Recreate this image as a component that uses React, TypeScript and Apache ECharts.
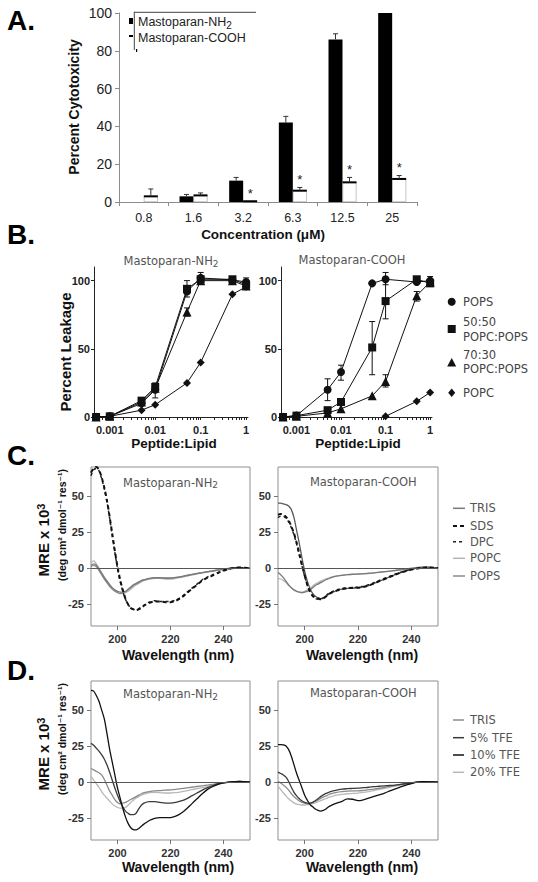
import React, { useEffect, useRef } from 'react';
import * as echarts from 'echarts';

// ---------- Panel A: cytotoxicity ----------
const CONC = ['0.8', '1.6', '3.2', '6.3', '12.5', '25'];
const NH2_CYTO = [0, 3, 11.3, 42, 86, 100];
const NH2_CYTO_ERR = [0, 4, 13, 45.3, 89, 100];
const COOH_CYTO = [3, 3.5, 0.4, 6, 10.4, 12.2];
const COOH_CYTO_ERR = [6.9, 4.8, 0.4, 7.7, 13, 14];
const COOH_SIG = [0, 0, 1, 1, 1, 1];

// ---------- Panel B: leakage ----------
const PL = [0.0005, 0.001, 0.005, 0.01, 0.05, 0.1, 0.5, 1];
const NH2_POPS = [0, 0.5, 10, 20, 92, 102, 100.5, 99];
const NH2_5050 = [0, 0.5, 12, 22, 94, 101, 101, 97];
const NH2_7030 = [0, 0.5, 11, 21, 77, 100, 100, 96];
const NH2_POPC = [0, 0.5, 5, 9, 25, 40, 90, 95.5];
const COOH_POPS = [0, 1, 20, 33, 98, 101, 99, 100];
const COOH_5050 = [0, 1, 5, 11, 51, 85, 101, 98];
const COOH_7030 = [0, 0.5, 3, 6, 15.5, 26, 89, 99];
const COOH_POPC = [null, null, null, null, null, 0.5, 11.5, 18];
const NH2_ERRBARS = [[0.01, 14, 25], [0.05, 74, 80], [0.05, 88, 100], [0.1, 99, 106], [1, 94, 102]];
const COOH_ERRBARS = [[0.005, 12, 28], [0.01, 27, 38], [0.05, 31, 70], [0.1, 72, 100], [0.1, 97, 106], [0.1, 22, 31], [0.5, 85, 92], [1, 96, 103]];
const B_LABEL_VALUES = [0.001, 0.01, 0.1, 1];
const B_LABELS = ['0.001', '0.01', '0.1', '1'];
const B_Y_TICKS = [0, 50, 100];

// ---------- Panels C & D: CD spectra ----------
const WL = [190, 191, 192, 193, 194, 195, 196, 197, 198, 199, 200, 201, 202, 203, 204, 205, 206, 207, 208, 209, 210,
  212, 214, 216, 218, 220, 222, 224, 226, 228, 230, 232, 234, 236, 238, 240, 242, 244, 246, 248, 250];
const C_NH2_SDS = [66, 69, 70, 68, 63, 56, 47, 36, 24, 12, 1, -8, -15, -21, -25, -27.5, -28.5, -29, -28.5, -27.5, -26,
  -24, -23, -23, -23.5, -23.5, -22.5, -20.5, -17.5, -14.5, -11.5, -8.5, -6.5, -5, -3.2, -1.8, -0.5, 0.2, 0.5, 0.3, 0];
const C_NH2_DPC = [64, 68, 69, 67.5, 62, 55, 46, 35, 23, 11, 0, -9, -16, -21.5, -25, -27.5, -28.5, -28.5, -28, -27, -25.5,
  -23.5, -22.5, -23, -23, -23, -22, -20, -17, -14, -11, -8, -6, -4.5, -3, -1.5, -0.5, 0, 0.3, 0.2, 0];
const C_NH2_TRIS = [2, 3, 2, -0.5, -3.5, -6.5, -9, -11.5, -13.5, -15, -16, -16.5, -16.5, -16, -14.5, -13, -11.5, -10.5, -9.5, -8.5, -8,
  -7, -6.5, -6.5, -6.8, -6.8, -6.3, -5.8, -5, -4.3, -3.6, -3, -2.4, -1.8, -1.2, -0.7, -0.2, 0.2, 0.4, 0.3, 0];
const C_NH2_POPC = [4, 5, 3, 0, -3, -6, -8.5, -11, -13.5, -15.5, -17, -17.5, -17.5, -17, -16, -14.5, -13, -11.5, -10.5, -9.5, -8.5,
  -7.5, -7, -7, -7.5, -7.5, -7, -6.3, -5.5, -4.7, -4, -3.3, -2.6, -2, -1.3, -0.8, -0.3, 0.2, 0.5, 0.3, 0];
const C_NH2_POPS = [1, 2, 1, -1.5, -4.5, -7.5, -10, -12.5, -14.5, -16, -17, -17.5, -17, -16.5, -15, -13.5, -12, -11, -10, -9, -8.3,
  -7.3, -6.8, -6.8, -7, -7, -6.5, -6, -5.2, -4.5, -3.8, -3.1, -2.5, -1.9, -1.3, -0.7, -0.2, 0.2, 0.4, 0.3, 0];
const C_COOH_SDS = [37, 37.5, 37, 35.5, 33, 29, 24, 17.5, 10, 2, -5, -11.5, -16, -19, -20.5, -21, -21.5, -21, -19.5, -18, -17,
  -15.5, -14.5, -14, -13.5, -13.5, -13, -12, -10.5, -9, -7.5, -6, -4.5, -3, -2, -1, -0.3, 0.3, 0.5, 0.3, 0];
const C_COOH_DPC = [35, 36, 36, 34.5, 32, 28, 23, 16.5, 9, 1.5, -5.5, -12, -16.5, -19.5, -21, -21.5, -21.5, -20.5, -19, -17.5, -16.5,
  -15, -14, -13.5, -13.5, -13, -12.5, -11.5, -10, -8.5, -7, -5.5, -4, -2.8, -1.8, -0.8, -0.2, 0.3, 0.5, 0.3, 0];
const C_COOH_TRIS = [-3, -4.5, -6.5, -9, -11.5, -13.5, -15, -16, -16.5, -17, -16.5, -16, -15, -13.5, -12, -11, -10, -9, -8, -7.3, -6.5,
  -5.5, -5, -4.5, -4.2, -4, -3.8, -3.5, -3.2, -2.8, -2.4, -2, -1.6, -1.1, -0.6, -0.1, 0.4, 0.6, 0.5, 0.3, 0];
const C_COOH_POPC = [-7, -7.5, -8.5, -10, -12, -13.5, -15, -16, -16.5, -16.5, -16, -15, -14, -12.5, -11, -10, -9, -8, -7.5, -6.8, -6.2,
  -5.3, -4.8, -4.5, -4.3, -4.2, -4, -3.7, -3.3, -2.9, -2.5, -2, -1.5, -1, -0.5, 0, 0.5, 0.8, 0.6, 0.3, 0];
const C_COOH_POPS = [45, 45, 44.5, 44, 43, 40.5, 35, 26, 17, 7, -2, -9, -14, -17.5, -19.5, -20.5, -21, -20.5, -19.5, -18, -17,
  -15.5, -14.5, -14, -14, -13.5, -13, -12, -10.5, -9, -7.5, -6, -4.5, -3, -1.8, -0.8, 0, 0.5, 0.8, 0.5, 0];
const D_NH2_10 = [63.5, 63, 60, 56, 50, 44, 34, 23, 14, 5, -4, -11, -18, -24, -28.5, -31.5, -32.8, -33, -32, -30.5, -29,
  -26.5, -25, -24.5, -24.5, -24.5, -23.5, -21.5, -18.5, -15, -11.5, -8, -5, -3, -1.5, -0.5, 0, 0.3, 0.5, 0.3, 0];
const D_NH2_5 = [27, 25.5, 23.5, 21.5, 19, 16, 12, 7, 1.5, -4, -9, -13.5, -17, -20, -21.5, -22.5, -22.5, -21.5, -18.5, -16, -14.5,
  -13.5, -13.5, -14, -14.5, -14.5, -14, -13, -11.5, -9.5, -7.5, -5.5, -3.8, -2.3, -1, -0.3, 0, 0.3, 0.5, 0.3, 0];
const D_NH2_TRIS = [9.5, 8.5, 7.5, 6.5, 5, 2, -2, -6, -9, -12, -14, -15, -14.5, -14, -13, -12, -11, -10, -9, -8, -7.3,
  -6.5, -6, -5.8, -5.5, -5.3, -5, -4.5, -4, -3.5, -3, -2.5, -2, -1.5, -1, -0.5, 0, 0.3, 0.4, 0.3, 0];
const D_NH2_20 = [4, 1.5, -1, -3.5, -6.5, -9, -11, -13, -15, -16.5, -17.5, -18, -18, -17.5, -16, -14, -12.5, -11, -10, -9, -8.3,
  -7.3, -7, -7.2, -7.5, -7.5, -7.2, -6.7, -6, -5.2, -4.5, -3.8, -3, -2.2, -1.4, -0.7, -0.2, 0.2, 0.4, 0.3, 0];
const D_COOH_10 = [26, 26, 25.8, 25, 22.5, 18, 12, 6, 1, -4, -9, -12.5, -15.5, -17, -18.5, -19.5, -20, -19.5, -18.5, -17, -16,
  -14.5, -13.3, -11.5, -11.8, -12.8, -12.2, -11, -9.8, -8.7, -7.5, -6, -4.6, -3.3, -2, -1, 0, 0.4, 0.3, 0.2, 0];
const D_COOH_5 = [7, 6, 5, 3.5, 0.5, -3.5, -7, -9.5, -11.5, -13, -14, -14.5, -14.5, -14, -12.8, -11.5, -10, -8.8, -7.8, -7, -6.3,
  -5.5, -4.8, -4.5, -4.3, -4.1, -3.8, -3.5, -3.1, -2.8, -2.5, -2.3, -2, -1.5, -1, -0.5, 0, 0.3, 0.3, 0.2, 0];
const D_COOH_TRIS = [0.5, -0.5, -2, -3.5, -5.5, -8, -10, -11.5, -13, -14, -14.5, -15, -14.8, -14, -13.3, -12.3, -11.3, -10.3, -9.5, -8.7, -8,
  -7, -6.5, -6.2, -6, -6, -5.7, -5.2, -4.8, -4.2, -3.5, -2.8, -2.2, -1.5, -1, -0.5, 0, 0.2, 0.2, 0.1, 0];
const D_COOH_20 = [-3, -5, -7.5, -9.5, -11.5, -13, -14.3, -15.2, -15.6, -15.8, -15.8, -15.6, -15.2, -14.8, -14.4, -13.5, -12.8, -12, -11.3, -10.5, -10,
  -9, -8.5, -8, -7.8, -7.5, -7, -6.5, -5.8, -5, -4.3, -3.5, -2.8, -2, -1.3, -0.8, -0.2, 0.1, 0.2, 0.1, 0];
const CD_X_TICKS = [200, 220, 240];
const CD_Y_TICKS = [-25, 0, 25, 50];
const C_NAMES = ['TRIS', 'SDS', 'DPC', 'POPC', 'POPS'];
const D_NAMES = ['TRIS', '5% TFE', '10% TFE', '20% TFE'];

const SANS = '"Liberation Sans", "DejaVu Sans", Arial, sans-serif';
const DJV = '"DejaVu Sans", "Liberation Sans", sans-serif';

function txt(text: string, x: number, y: number, o: any = {}) {
  const size = o.size || 12;
  return {
    type: 'text', x, y, rotation: o.rot || 0, silent: true,
    style: {
      text, fill: o.color || '#111', fontSize: size, fontWeight: o.weight || 'normal',
      fontFamily: o.family || SANS, align: o.align || 'center', verticalAlign: 'middle',
      rich: {
        sub: { fontSize: Math.round(size * 0.78), fontFamily: o.family || SANS, fontWeight: o.weight || 'normal', fill: o.color || '#111', padding: [Math.round(size * 0.45), 0, 0, 0], verticalAlign: 'bottom' },
        sup: { fontSize: Math.round(size * 0.72), fontFamily: o.family || SANS, fontWeight: o.weight || 'normal', fill: o.color || '#111', verticalAlign: 'top', padding: [0, 0, Math.round(size * 0.35), 0] },
      },
    },
  };
}
function ln(x1: number, y1: number, x2: number, y2: number, stroke: string, lineWidth = 1, dash?: number[]) {
  return { type: 'line', silent: true, shape: { x1, y1, x2, y2 }, style: { stroke, lineWidth, lineDash: dash } };
}

function buildOption() {
  const grids = [
    { left: 119, top: 13, width: 298, height: 189 },
    { left: 94, top: 267, width: 154, height: 150 },
    { left: 281, top: 267, width: 151, height: 150 },
    { left: 91, top: 467, width: 159, height: 159, show: true, borderColor: '#8f8f8f', borderWidth: 1 },
    { left: 278, top: 467, width: 160, height: 159, show: true, borderColor: '#8f8f8f', borderWidth: 1 },
    { left: 91, top: 681, width: 159, height: 159, show: true, borderColor: '#8f8f8f', borderWidth: 1 },
    { left: 278, top: 681, width: 160, height: 159, show: true, borderColor: '#8f8f8f', borderWidth: 1 },
  ].map((g) => ({ ...g, containLabel: false, outerBoundsMode: 'none' }));

  const bTicks: number[] = [];
  for (let e = -4; e <= 0; e++) {
    for (let m = 1; m <= 9; m++) {
      const v = m * Math.pow(10, e);
      if (v >= 0.0005 && v <= 1) bTicks.push(v);
    }
  }

  const logX = (gi: number) => ({
    gridIndex: gi, type: 'log', logBase: 10, min: 0.00045, max: 1.1,
    axisLine: { show: true, onZero: false, lineStyle: { color: '#222', width: 1 } },
    axisTick: { show: true, length: 3, customValues: bTicks, lineStyle: { color: '#222' } },
    axisLabel: {
      customValues: B_LABEL_VALUES, margin: 7, fontSize: 11, fontWeight: 'bold', color: '#222', fontFamily: SANS,
      formatter: (v: number) => B_LABELS[Math.round(Math.log10(v)) + 3] ?? '',
    },
    splitLine: { show: false },
  });
  const bY = (gi: number) => ({
    gridIndex: gi, type: 'value', min: 0, max: 110,
    axisLine: { show: true, onZero: false, lineStyle: { color: '#222', width: 1 } },
    axisTick: { show: true, length: 3, customValues: B_Y_TICKS, lineStyle: { color: '#222' } },
    axisLabel: { customValues: B_Y_TICKS, margin: 4, fontSize: 11, fontWeight: 'bold', color: '#222', fontFamily: SANS },
    splitLine: { show: false },
  });
  const cdX = (gi: number) => ({
    gridIndex: gi, type: 'value', min: 190, max: 250,
    axisLine: { show: false, onZero: false },
    axisTick: { show: true, length: 4, customValues: CD_X_TICKS, lineStyle: { color: '#777' } },
    axisLabel: { customValues: CD_X_TICKS, margin: 7, fontSize: 11, fontWeight: 'bold', color: '#333', fontFamily: SANS },
    splitLine: { show: false },
  });
  const cdY = (gi: number) => ({
    gridIndex: gi, type: 'value', min: -40, max: 70,
    axisLine: { show: false, onZero: false },
    axisTick: { show: true, length: 4, customValues: CD_Y_TICKS, lineStyle: { color: '#777' } },
    axisLabel: { customValues: CD_Y_TICKS, margin: 7, fontSize: 11, fontWeight: 'bold', color: '#333', fontFamily: SANS },
    splitLine: { show: false },
  });

  const xAxis = [
    {
      gridIndex: 0, type: 'category', data: CONC,
      axisLine: { show: true, onZero: false, lineStyle: { color: '#8c8c8c' } },
      axisTick: { show: true, length: 4, lineStyle: { color: '#8c8c8c' } },
      axisLabel: { margin: 9, fontSize: 12.5, color: '#222', fontFamily: SANS },
    },
    logX(1), logX(2), cdX(3), cdX(4), cdX(5), cdX(6),
  ];
  const yAxis = [
    {
      gridIndex: 0, type: 'value', min: 0, max: 100, interval: 20,
      axisLine: { show: true, onZero: false, lineStyle: { color: '#8c8c8c' } },
      axisTick: { show: true, length: 4, lineStyle: { color: '#8c8c8c' } },
      axisLabel: { margin: 7, fontSize: 14, color: '#222', fontFamily: SANS },
      splitLine: { show: false },
    },
    bY(1), bY(2), cdY(3), cdY(4), cdY(5), cdY(6),
  ];

  const series: any[] = [];

  // Panel A bars
  series.push({
    type: 'bar', xAxisIndex: 0, yAxisIndex: 0, data: NH2_CYTO, barWidth: 14, barGap: '0%',
    itemStyle: { color: '#000' },
  });
  series.push({
    type: 'bar', xAxisIndex: 0, yAxisIndex: 0, data: COOH_CYTO, barWidth: 14, barGap: '0%',
    itemStyle: { color: '#fff', borderColor: '#a0a0a0', borderWidth: 0.6 },
  });
  const aErr: number[][] = [];
  NH2_CYTO.forEach((v, i) => aErr.push([i, v, NH2_CYTO_ERR[i], -1, 0]));
  COOH_CYTO.forEach((v, i) => aErr.push([i, v, COOH_CYTO_ERR[i], 1, COOH_SIG[i]]));
  series.push({
    type: 'custom', xAxisIndex: 0, yAxisIndex: 0, data: aErr, z: 5,
    encode: { x: 0, y: [1, 2] },
    renderItem: (params: any, api: any) => {
      const i = api.value(0), v = api.value(1), hi = api.value(2), side = api.value(3), sig = api.value(4);
      const c = api.coord([i, v]);
      const h = api.coord([i, hi]);
      const cx = c[0] + side * 7;
      const ch: any[] = [];
      if (side > 0) {
        ch.push({ type: 'line', shape: { x1: c[0], y1: c[1], x2: c[0] + 14, y2: c[1] }, style: { stroke: '#000', lineWidth: 2 } });
      }
      if (hi > v) {
        ch.push({ type: 'line', shape: { x1: cx, y1: c[1], x2: cx, y2: h[1] }, style: { stroke: '#333', lineWidth: 1 } });
        ch.push({ type: 'line', shape: { x1: cx - 2.5, y1: h[1], x2: cx + 2.5, y2: h[1] }, style: { stroke: '#333', lineWidth: 1 } });
      }
      if (sig) {
        ch.push({
          type: 'text', x: cx, y: Math.min(h[1], c[1]) - 8,
          style: { text: '*', fontSize: 13, fill: '#222', fontFamily: SANS, align: 'center', verticalAlign: 'middle' },
        });
      }
      return { type: 'group', children: ch };
    },
  });

  // Panel B
  const bDefs = [
    { name: 'POPS', symbol: 'circle', size: 8 },
    { name: '50:50 POPC:POPS', symbol: 'rect', size: 8 },
    { name: '70:30 POPC:POPS', symbol: 'triangle', size: 9 },
    { name: 'POPC', symbol: 'diamond', size: 8 },
  ];
  const bData = [
    [NH2_POPS, NH2_5050, NH2_7030, NH2_POPC],
    [COOH_POPS, COOH_5050, COOH_7030, COOH_POPC],
  ];
  const bErr = [NH2_ERRBARS, COOH_ERRBARS];
  [1, 2].forEach((gi, k) => {
    series.push({
      type: 'custom', xAxisIndex: gi, yAxisIndex: gi, data: bErr[k], z: 3,
      encode: { x: 0, y: [1, 2] },
      renderItem: (params: any, api: any) => {
        const x = api.value(0), lo = api.value(1), hi = api.value(2);
        const a = api.coord([x, lo]);
        const b = api.coord([x, hi]);
        const w = 3;
        const st = { stroke: '#111', lineWidth: 1 };
        return {
          type: 'group', children: [
            { type: 'line', shape: { x1: a[0], y1: a[1], x2: b[0], y2: b[1] }, style: st },
            { type: 'line', shape: { x1: a[0] - w, y1: a[1], x2: a[0] + w, y2: a[1] }, style: st },
            { type: 'line', shape: { x1: b[0] - w, y1: b[1], x2: b[0] + w, y2: b[1] }, style: st },
          ],
        };
      },
    });
    bDefs.forEach((d, j) => {
      series.push({
        type: 'line', name: d.name, xAxisIndex: gi, yAxisIndex: gi,
        data: PL.map((x, idx) => [x, bData[k][j][idx]]),
        symbol: d.symbol, symbolSize: d.size, showSymbol: true, clip: false, connectNulls: false,
        itemStyle: { color: '#111' }, lineStyle: { color: '#111', width: 1 }, z: 4,
      });
    });
  });

  // Panel C & D spectra
  const zeroLine = {
    silent: true, symbol: 'none', label: { show: false },
    lineStyle: { color: '#555', width: 1, type: 'solid' }, data: [{ yAxis: 0 }],
  };
  const cdLine = (gi: number, vals: number[], color: string, width: number, dash?: number[], withZero = false) => ({
    type: 'line', xAxisIndex: gi, yAxisIndex: gi, data: WL.map((w, i) => [w, vals[i]]),
    showSymbol: false, symbol: 'none', smooth: 0.3,
    lineStyle: { color, width, type: dash || 'solid' },
    markLine: withZero ? zeroLine : undefined,
  });
  const C_STYLE = {
    TRIS: ['#7a7a7a', 1.3], SDS: ['#111', 2], DPC: ['#222', 1.5], POPC: ['#b3b3b3', 1.3], POPS: ['#8c8c8c', 1.3],
  } as any;
  series.push(cdLine(3, C_NH2_POPC, C_STYLE.POPC[0], C_STYLE.POPC[1], undefined, true));
  series.push(cdLine(3, C_NH2_POPS, C_STYLE.POPS[0], C_STYLE.POPS[1]));
  series.push(cdLine(3, C_NH2_TRIS, C_STYLE.TRIS[0], C_STYLE.TRIS[1]));
  series.push(cdLine(3, C_NH2_DPC, C_STYLE.DPC[0], C_STYLE.DPC[1], [3, 3]));
  series.push(cdLine(3, C_NH2_SDS, C_STYLE.SDS[0], C_STYLE.SDS[1], [4, 3]));
  series.push(cdLine(4, C_COOH_POPC, C_STYLE.POPC[0], C_STYLE.POPC[1], undefined, true));
  series.push(cdLine(4, C_COOH_TRIS, C_STYLE.TRIS[0], C_STYLE.TRIS[1]));
  series.push(cdLine(4, C_COOH_POPS, '#5a5a5a', C_STYLE.POPS[1]));
  series.push(cdLine(4, C_COOH_DPC, C_STYLE.DPC[0], C_STYLE.DPC[1], [3, 3]));
  series.push(cdLine(4, C_COOH_SDS, C_STYLE.SDS[0], C_STYLE.SDS[1], [4, 3]));

  const D_COL = ['#8a8a8a', '#3a3a3a', '#111', '#b8b8b8'];
  series.push(cdLine(5, D_NH2_20, D_COL[3], 1.3, undefined, true));
  series.push(cdLine(5, D_NH2_TRIS, D_COL[0], 1.3));
  series.push(cdLine(5, D_NH2_5, D_COL[1], 1.3));
  series.push(cdLine(5, D_NH2_10, D_COL[2], 1.3));
  series.push(cdLine(6, D_COOH_20, D_COL[3], 1.3, undefined, true));
  series.push(cdLine(6, D_COOH_TRIS, D_COL[0], 1.3));
  series.push(cdLine(6, D_COOH_5, D_COL[1], 1.3));
  series.push(cdLine(6, D_COOH_10, D_COL[2], 1.3));

  // Graphic texts and legends
  const g: any[] = [];
  const letter = (t: string, y: number) => txt(t, 7, y, { size: 28, weight: 'bold', align: 'left', color: '#000' });
  g.push(letter('A.', 20), letter('B.', 234), letter('C.', 455), letter('D.', 670));

  // A
  g.push(txt('Percent Cytotoxicity', 74, 107, { size: 14, weight: 'bold', rot: Math.PI / 2 }));
  g.push(txt('Concentration (μM)', 263, 234, { size: 13.5, weight: 'bold' }));
  g.push(ln(134.3, 11.7, 134.3, 50, '#444'));
  g.push(ln(134.3, 12.3, 256, 12.3, '#444'));
  g.push({ type: 'rect', silent: true, shape: { x: 129, y: 18, width: 4, height: 6 }, style: { fill: '#000' } });
  g.push({ type: 'rect', silent: true, shape: { x: 129, y: 35, width: 4, height: 2 }, style: { fill: '#000' } });
  g.push({ type: 'rect', silent: true, shape: { x: 136, y: 49, width: 1.2, height: 3 }, style: { fill: '#000' } });
  g.push(txt('Mastoparan-NH{sub|2}', 138, 22, { size: 12.5, align: 'left', color: '#222' }));
  g.push(txt('Mastoparan-COOH', 138, 37.5, { size: 12.5, align: 'left', color: '#222' }));

  // B
  g.push(txt('Mastoparan-NH{sub|2}', 171, 261, { size: 11.5, family: DJV, color: '#555' }));
  g.push(txt('Mastoparan-COOH', 352, 260, { size: 11.5, family: DJV, color: '#555' }));
  g.push(txt('Percent Leakage', 65, 352, { size: 15, weight: 'bold', rot: Math.PI / 2 }));
  g.push(txt('Peptide:Lipid', 174, 443, { size: 13.5, weight: 'bold' }));
  g.push(txt('Peptide:Lipid', 358, 443, { size: 13.5, weight: 'bold' }));
  const mx = 451.7;
  g.push({ type: 'circle', silent: true, shape: { cx: mx, cy: 301.7, r: 4 }, style: { fill: '#111' } });
  g.push({ type: 'rect', silent: true, shape: { x: mx - 4, y: 325, width: 8, height: 8 }, style: { fill: '#111' } });
  g.push({ type: 'polygon', silent: true, shape: { points: [[mx, 358], [mx + 4.5, 366.5], [mx - 4.5, 366.5]] }, style: { fill: '#111' } });
  g.push({ type: 'polygon', silent: true, shape: { points: [[mx, 388.5], [mx + 3.5, 392.7], [mx, 396.9], [mx - 3.5, 392.7]] }, style: { fill: '#111' } });
  const bl = (t: string, y: number) => txt(t, 463, y, { size: 11.5, family: DJV, align: 'left', color: '#444' });
  g.push(bl('POPS', 301.7), bl('50:50', 321.7), bl('POPC:POPS', 337.3), bl('70:30', 355), bl('POPC:POPS', 369), bl('POPC', 392.7));

  // C & D shared texts
  [[467, 481.7, 655], [681, 693.3, 866.7]].forEach(([top, titleY, xlY]) => {
    g.push(txt('Mastoparan-NH{sub|2}', 170.5, titleY + 1, { size: 11.5, family: DJV, color: '#555' }));
    g.push(txt('Mastoparan-COOH', 363.3, titleY, { size: 11.5, family: DJV, color: '#555' }));
    g.push(txt('MRE x 10{sup|3}', 43.3, top + 73, { size: 15, weight: 'bold', rot: Math.PI / 2 }));
    g.push(txt('(deg cm² dmol⁻¹ res⁻¹)', 61.7, top + 58, { size: 10.5, weight: 'bold', rot: Math.PI / 2 }));
    g.push(txt('Wavelength (nm)', 178, xlY, { size: 14, weight: 'bold' }));
    g.push(txt('Wavelength (nm)', 362, xlY, { size: 14, weight: 'bold' }));
  });
  const cLegY = [508.3, 526, 541.7, 558.3, 576];
  const cLegStyle = [
    ['#7a7a7a', 1.5, undefined], ['#111', 2, [4, 3]], ['#222', 1.5, [3, 3]], ['#b3b3b3', 1.5, undefined], ['#8c8c8c', 1.5, undefined],
  ] as any[];
  C_NAMES.forEach((n, i) => {
    g.push(ln(453, cLegY[i], 465, cLegY[i], cLegStyle[i][0], cLegStyle[i][1], cLegStyle[i][2]));
    g.push(txt(n, 470, cLegY[i], { size: 11.5, family: DJV, align: 'left', color: '#555' }));
  });
  const dLegY = [720, 737.7, 755, 772.3];
  D_NAMES.forEach((n, i) => {
    g.push(ln(453, dLegY[i], 464, dLegY[i], D_COL[i], 1.5));
    g.push(txt(n, 470, dLegY[i], { size: 11.5, family: DJV, align: 'left', color: '#555' }));
  });

  return {
    animation: false,
    backgroundColor: '#fff',
    grid: grids,
    xAxis,
    yAxis,
    series,
    graphic: { elements: g },
  };
}

export default function App() {
  const ref = useRef<HTMLDivElement>(null);
  useEffect(() => {
    if (!ref.current) return;
    const chart = echarts.init(ref.current, undefined, { renderer: 'svg' });
    chart.setOption(buildOption() as any);
    return () => chart.dispose();
  }, []);
  return (
    <div
      ref={ref}
      style={{ position: 'fixed', left: 0, top: 0, width: 538, height: 882, background: '#fff' }}
    />
  );
}
